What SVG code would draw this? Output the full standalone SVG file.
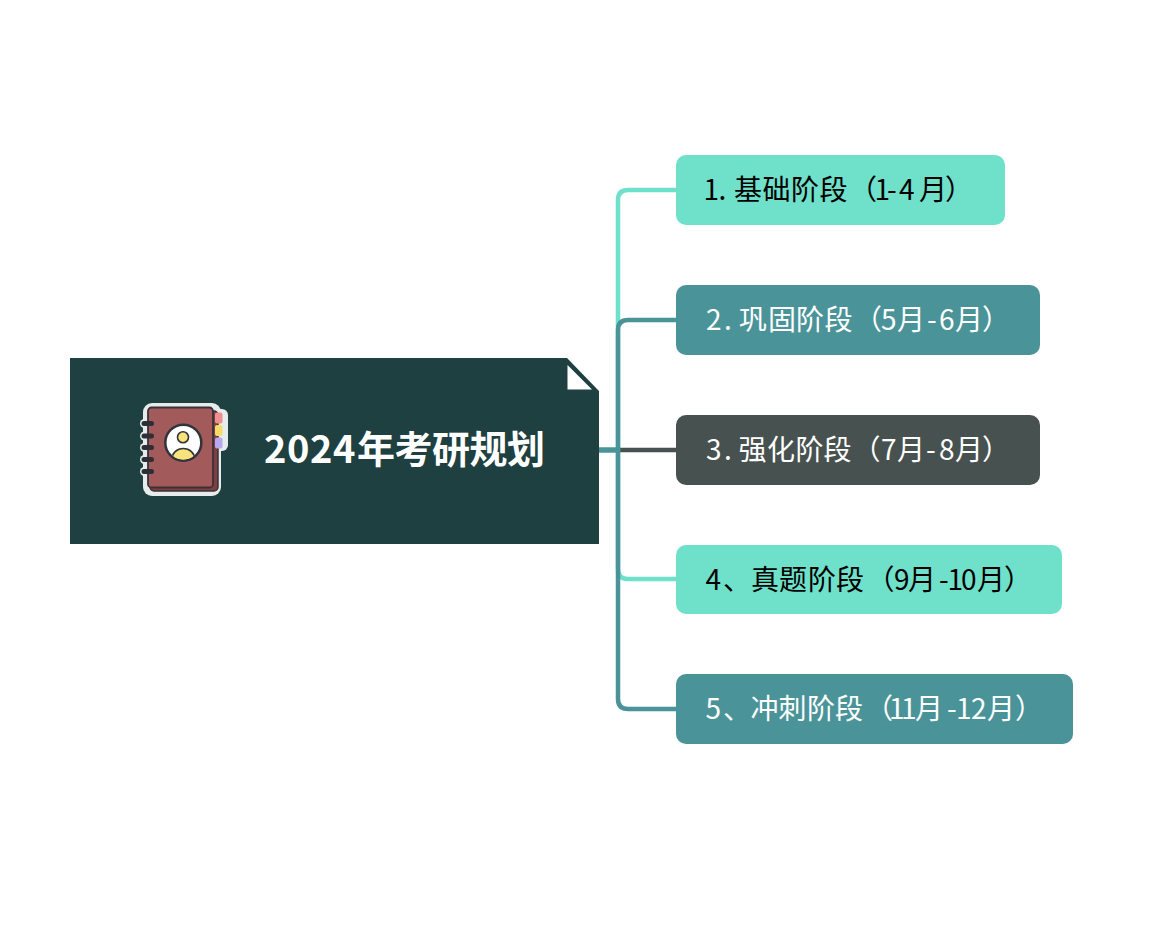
<svg xmlns="http://www.w3.org/2000/svg" width="1170" height="926" viewBox="0 0 1170 926">
<style>
.c{fill:none;stroke-width:4.500}
.t{font-family:"Noto Sans CJK SC","Noto Sans",sans-serif;font-size:28px}
.light{fill:#6fe0c9}.mid{fill:#4a9499}.dark{fill:#475250}
.k{fill:#000}.w{fill:#fff}
</style>
<rect width="1170" height="926" fill="#fff"/>
<g id="connectors">
<path class="c" stroke="#6fe0c9" d="M599 450H618V200Q618 190 628 190H676"/>
<path class="c" stroke="#6fe0c9" d="M599 450H618V569Q618 579 628 579H676"/>
<path class="c" stroke="#475250" d="M599 450H676"/>
<path class="c" stroke="#4a9499" d="M599 450H618V330Q618 320 628 320H676"/>
<path class="c" stroke="#4a9499" d="M599 450H618V699Q618 709 628 709H676"/>
</g>
<g id="root">
<path fill="#1f4040" d="M70 358H567L599 391V544H70Z"/>
<path fill="#fff" d="M567.500 365L592 389.500H567.500Z"/>
<g id="root-icon">
<rect x="143" y="403" width="78" height="93" rx="9" fill="#e6ecec"/>
<rect x="212" y="409" width="16" height="42" rx="6" fill="#e6ecec"/>
<g fill="#e6ecec"><rect x="140" y="419" width="10" height="9" rx="4.500"/><rect x="140" y="431.500" width="10" height="9" rx="4.500"/><rect x="140" y="443" width="10" height="9" rx="4.500"/><rect x="140" y="455" width="10" height="9" rx="4.500"/><rect x="140" y="467" width="10" height="9" rx="4.500"/></g>
<rect x="150" y="411" width="68" height="80" rx="4" fill="#7e3f3f" stroke="#3a3038" stroke-width="1.500"/>
<rect x="215" y="412.500" width="7.500" height="11" rx="2" fill="#ef8f8f"/>
<rect x="215" y="425" width="7.500" height="11" rx="2" fill="#f5dc6a"/>
<rect x="215" y="437.500" width="7.500" height="11" rx="2" fill="#b8a8ee"/>
<rect x="148" y="407.500" width="65" height="80" rx="3.500" fill="#a25a5a" stroke="#3a3038" stroke-width="1.800"/>
<path fill="none" stroke="#2e2e36" stroke-width="5" stroke-linecap="round" d="M144 423.500H151.500M144 436H151.500M144 447.500H151.500M144 459.500H151.500M144 471.500H151.500"/>
<circle cx="183.300" cy="442.700" r="18" fill="#fff" stroke="#33333b" stroke-width="2.500"/>
<clipPath id="cp"><circle cx="183.300" cy="442.700" r="16.800"/></clipPath>
<ellipse cx="183.300" cy="459" rx="11.500" ry="10.500" fill="#f8e27c" stroke="#33333b" stroke-width="1.600" clip-path="url(#cp)"/>
<circle cx="183" cy="437.300" r="5.500" fill="#f8e27c" stroke="#33333b" stroke-width="1.600"/>
</g>
<text fill="#fff" font-family="&quot;Noto Sans CJK SC&quot;,sans-serif" font-weight="700" font-size="38" x="264 287 310 333 357 394.500 432 469.500 507" y="463">2024年考研规划</text>
</g>
<g id="node1"><rect class="light" x="676" y="155" width="329" height="70" rx="10"/><text class="t k" y="200" x="703.500 718.500 727 734 762.500 791 819.500 849 874.500 887 899 919 945">1. 基础阶段（1-4月）</text></g>
<g id="node2"><rect class="mid" x="676" y="285" width="364" height="70" rx="10"/><text class="t w" y="330" x="706 724 732 739 768 796 824.500 854 881 897 927 939 955 982">2. 巩固阶段（5月-6月）</text></g>
<g id="node3"><rect class="dark" x="676" y="415" width="364" height="70" rx="10"/><text class="t w" y="460" x="706 724 732 738.500 767 795.500 823.500 852.500 881 897 926 939 955 982">3. 强化阶段（7月-8月）</text></g>
<g id="node4"><rect class="light" x="676" y="545" width="386" height="69" rx="10"/><text class="t k" y="590" x="705.500 723 751 779 808 836 866.500 894 908 939 947.500 961 977 1004">4、真题阶段（9月-10月）</text></g>
<g id="node5"><rect class="mid" x="676" y="674" width="397" height="70" rx="10"/><text class="t w" y="719" x="705.500 723 750.500 778.500 807 835 865 889 901 915 947 956 971 987 1015">5、冲刺阶段（11月-12月）</text></g>
</svg>
